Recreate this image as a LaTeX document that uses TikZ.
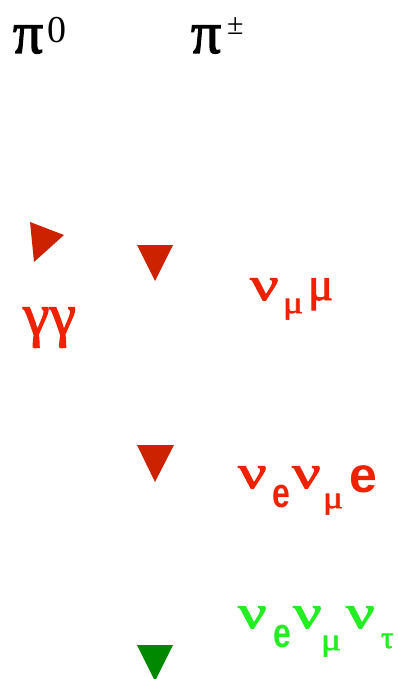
\documentclass[tikz,border=0pt]{standalone}
\usepackage{fontspec}
\setmainfont{Liberation Serif}
\newfontfamily\grk{Liberation Serif}[FakeBold=2]
\newfontfamily\sansf{Liberation Sans}
\definecolor{trired}{HTML}{CC2200}
\definecolor{txtred}{HTML}{EE2200}
\definecolor{txtgreen}{HTML}{22EE22}
\definecolor{trigreen}{HTML}{008800}
\newcommand\fsz[1]{\fontsize{#1}{#1}\selectfont}
% \gk{size}{xscale}{yscale}{glyph}
\newcommand\gk[4]{\scalebox{#2}[#3]{\fsz{#1}\grk #4}}
\newcommand\ek[4]{\scalebox{#2}[#3]{\fsz{#1}\sansf\bfseries #4}}
\begin{document}
\begin{tikzpicture}[x=1pt,y=-1pt,
  lbl/.style={anchor=base west,inner sep=0pt,outer sep=0pt},
  rt/.style={lbl,text=txtred},
  gt/.style={lbl,text=txtgreen}]
\useasboundingbox (0,0) rectangle (398,679);
\fill[white] (0,0) rectangle (398,679);
% headers
\node[lbl] (pi0) at (13,53) {\gk{60}{1}{1}{π}};
\node[lbl] (sup0) at (47,43) {\fsz{38}0};
\node[lbl] (pipm) at (191,53) {\gk{60}{1}{1}{π}};
\node[lbl] (pm) at (227,35) {\fsz{30}±};
% triangles
\fill[trired] (30,222) -- (64,235) -- (34,262) -- cycle;
\fill[trired] (137,245) -- (173,245) -- (155,281) -- cycle;
\fill[trired] (137,445) -- (174,445) -- (155,482) -- cycle;
\fill[trigreen] (137,645) -- (173,645) -- (155,681) -- cycle;
% gamma gamma
\node[rt] (gg) at (23,335) {\gk{60}{1}{1}{γγ}};
% row 1
\node[rt] (n1) at (250,300) {\gk{47}{1.35}{1}{ν}};
\node[rt] (m1s) at (283,313) {\gk{31}{1.2}{1}{μ}};
\node[rt] (m1) at (308,300) {\gk{47}{1}{1}{μ}};
% row 2
\node[rt] (n2a) at (238,488) {\gk{47}{1.35}{1}{ν}};
\node[rt] (e2s) at (272,507) {\ek{32}{1}{1.3}{e}};
\node[rt] (n2b) at (292,488) {\gk{47}{1.35}{1}{ν}};
\node[rt] (m2s) at (323,508) {\gk{31}{1.2}{1}{μ}};
\node[rt] (e2) at (349,492) {\ek{50}{1}{1}{e}};
% row 3
\node[gt] (n3a) at (238,628) {\gk{47}{1.35}{1}{ν}};
\node[gt] (e3s) at (273,647) {\ek{32}{1}{1.3}{e}};
\node[gt] (n3b) at (293,628) {\gk{47}{1.35}{1}{ν}};
\node[gt] (m3s) at (321,650) {\gk{31}{1.2}{1}{μ}};
\node[gt] (n3c) at (346,628) {\gk{47}{1.35}{1}{ν}};
\node[gt] (t3s) at (381,648) {\gk{31}{1}{1}{τ}};
\end{tikzpicture}
\end{document}
